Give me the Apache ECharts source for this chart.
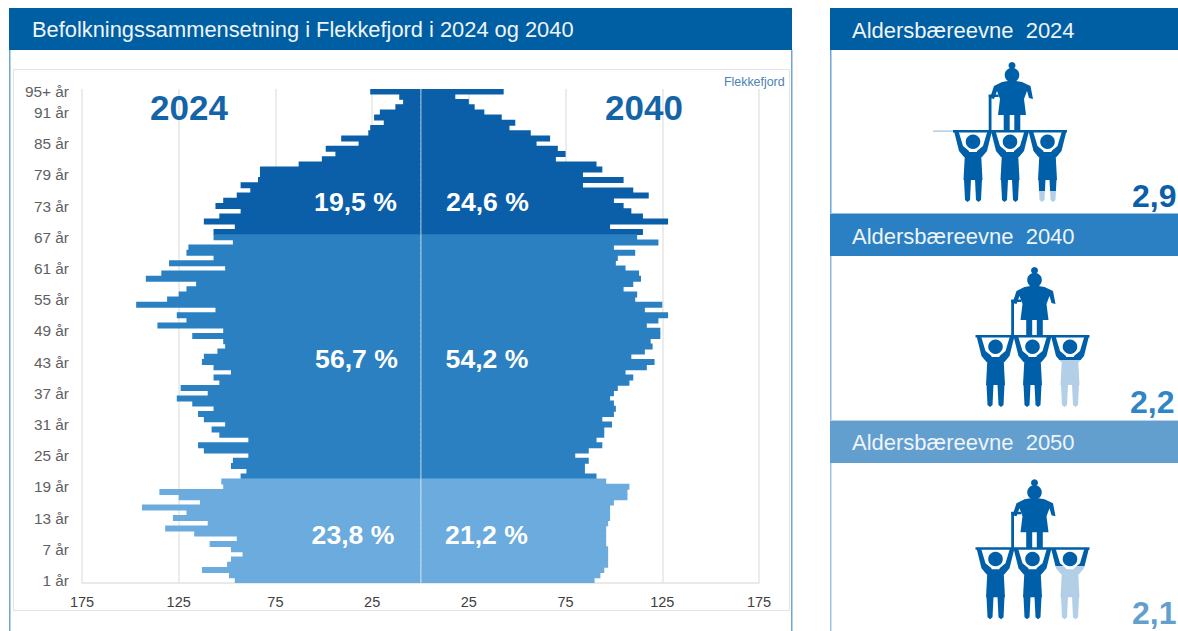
<!DOCTYPE html>
<html><head><meta charset="utf-8">
<style>html,body{margin:0;padding:0;background:#fff}#c{width:1178px;height:631px}</style>
<script src="https://cdn.jsdelivr.net/npm/echarts@6/dist/echarts.min.js"></script>
</head><body><div id="c"></div>
<script>
// Ages, oldest first (top of the pyramid)
const ages = ['95+',94,93,92,91,90,89,88,87,86,85,84,83,82,81,80,79,78,77,76,75,74,73,72,71,70,69,68,67,66,65,64,63,62,61,60,59,58,57,56,55,54,53,52,51,50,49,48,47,46,45,44,43,42,41,40,39,38,37,36,35,34,33,32,31,30,29,28,27,26,25,24,23,22,21,20,19,18,17,16,15,14,13,12,11,10,9,8,7,6,5,4,3,2,1];
const values2024 = [26,11,9,13,21,24,19,26,27,41,32,49,44,51,63,83,83,84,93,88,95,102,106,93,104,112,96,107,107,97,120,121,107,130,101,134,142,116,121,125,131,147,106,126,121,136,102,118,102,101,105,112,113,107,98,107,104,124,110,126,118,107,115,112,101,108,104,89,115,112,89,97,98,90,93,103,102,135,125,114,144,121,128,110,132,117,95,109,98,92,98,100,113,99,96];
const values2040 = [43,18,25,28,33,42,49,46,57,67,60,71,75,70,91,94,84,105,84,110,118,100,105,109,115,128,98,115,112,123,100,111,102,101,106,113,114,110,105,112,111,125,116,128,123,117,124,124,119,120,116,109,121,117,106,110,108,102,100,98,100,101,100,94,99,95,95,91,94,87,80,87,85,85,91,96,108,107,107,100,98,98,98,97,96,96,96,96,97,97,97,97,95,93,90];
const xTicks = { min:-175, max:175, step:50 };
const oldestMiddleAge = 67, oldestYoungAge = 20;
const shares2024 = ['19,5 %','56,7 %','23,8 %'];
const shares2040 = ['24,6 %','54,2 %','21,2 %'];
const bearing = [['Aldersbæreevne  2024','2,9'],['Aldersbæreevne  2040','2,2'],['Aldersbæreevne  2050','2,1']];

const C = { dark:'#0b5ea8', mid:'#2b80c1', light:'#6babdd', head:'#005ea2', fig:'#005fa9', figLight:'#b2cfe7' };
const ageNum = i => ages.length - i;
const bandOf = i => { const a = ageNum(i); return a > oldestMiddleAge ? C.dark : a > oldestYoungAge ? C.mid : C.light; };
const items = (vals,sign) => vals.map((v,i)=>({value:sign*v,itemStyle:{color:bandOf(i)}}));

const FF = '"Liberation Sans", Arial, sans-serif';
const rect = (x,y,w,h,fill,extra) => Object.assign({type:'rect',silent:true,z:1,shape:{x,y,width:w,height:h},style:{fill}},extra||{});
const txt = (t,x,y,size,fill,weight,align,z) => ({type:'text',silent:true,z:z||20,x,y,style:{text:t,fill,font:(weight||'normal')+' '+size+'px '+FF,align:align||'left',verticalAlign:'middle'}});
const poly = (pts,fill) => ({type:'polygon',silent:true,z:5,shape:{points:pts},style:{fill}});
const circ = (x,y,r,fill) => ({type:'circle',silent:true,z:5,shape:{cx:x,cy:y,r},style:{fill}});

function figure(cx,y0,lightFrom){
  const out=[]; const f=C.fig;
  const xe=cx+2;
  const P=(arr,dx,dy)=>arr.map(p=>[p[0]+dx,p[1]+dy]);
  [-37,0,37.5].forEach((d,i)=>{
    const x=cx+d; let fill=f;
    if(i===2 && lightFrom!=null){
      const t=lightFrom/75;
      fill={type:'linear',global:true,x:0,y:y0,x2:0,y2:y0+75,colorStops:[{offset:0,color:f},{offset:t,color:f},{offset:t,color:C.figLight},{offset:1,color:C.figLight}]};
    }
    out.push(circ(x,y0+10.7,7.3,f));
    out.push(poly(P([[-19,0],[-14.5,0],[-10,15],[-4,20],[-4,27],[-9,26],[-14,20]],x,y0),fill));
    out.push(poly(P([[19,0],[14.5,0],[10,15],[4,20],[4,27],[9,26],[14,20]],x,y0),fill));
    out.push(poly(P([[-8,21],[8,21],[9.5,49],[-9.5,49]],x,y0),fill));
    out.push(poly(P([[-9,48.5],[-2,48.5],[-3,69],[-5.5,71],[-8,69]],x,y0),fill));
    out.push(poly(P([[9,48.5],[2,48.5],[3,69],[5.5,71],[8,69]],x,y0),fill));
  });
  out.push(rect(cx-57,y0-1,114,2.4,f,{z:5}));
  out.push(circ(xe,y0-56,7.3,f));
  out.push(circ(xe,y0-65.5,3.5,f));
  out.push(poly(P([[-4,-50],[-10,-49],[-18,-45],[-22,-33],[-18,-32],[-15,-40],[-12,-32],[-14,-16],[14,-16],[12,-32],[15,-40],[17,-33],[21,-32],[18.5,-45],[10,-49],[4,-50]],xe,y0),f));
  out.push(rect(xe-8.3,y0-16.5,6,17,f,{z:5}));
  out.push(rect(xe+2.3,y0-16.5,6,17,f,{z:5}));
  out.push(rect(xe-23.3,y0-36,2.8,36,f,{z:5}));
  out.push(rect(xe-23.3,y0-36.5,10,2.5,f,{z:5}));
  return out;
}

const graphics = [
  rect(9,8,783,42,C.head),
  rect(9,50,1.5,581,'#6fa6d6'), rect(791,50,1.5,581,'#6fa6d6'),
  {type:'rect',silent:true,z:1,shape:{x:13.5,y:69.5,width:776,height:541},style:{fill:'none',stroke:'#e4e4e4',lineWidth:1}},
  txt('Befolkningssammensetning i Flekkefjord i 2024 og 2040',32,29.5,21.85,'#eef4fa'),
  txt('Flekkefjord',724,82,12.4,'#4c81b4'),
  txt('2024',150,107,35,'#1464a8','bold'),
  txt('2040',605,107,35,'#1464a8','bold'),
  rect(830,8,348,42,C.head), rect(830,50,1.5,163,'#6fa6d6'),
  rect(830,213.5,348,42.5,'#2a80c3'), rect(830,256,1.5,164,'#8db9de'),
  rect(830,420.5,348,42.5,'#629fcf'), rect(830,463,1.5,168,'#9cc3e2'),
  rect(830,420,348,1,'#b9d4ea'),
  txt(bearing[0][0],852,30.5,22,'#eef4fa'),
  txt(bearing[1][0],852,236.5,22,'#eef4fa'),
  txt(bearing[2][0],852,442.5,22,'#eef4fa'),
  txt(bearing[0][1],1132,196,32,'#0b5ea8','bold'),
  txt(bearing[1][1],1130,402,32,'#2f85c6','bold'),
  txt(bearing[2][1],1132,613,32,'#629fcf','bold'),
  rect(933,130.5,20,1.2,'#9cc0e0',{z:5}),
  ...figure(1010,131,60),
  ...figure(1032.5,336,24),
  ...figure(1032.5,548.3,18),
];
[202,359,535].forEach((y,i)=>{
  graphics.push(txt(shares2024[i],[355.5,356.5,353][i],y,26.6,'#fff','bold','center'));
  graphics.push(txt(shares2040[i],[487.5,487,486.5][i],y,26.6,'#fff','bold','center'));
});

const chart = echarts.init(document.getElementById('c'),null,{renderer:'svg',width:1178,height:631});
chart.setOption({
  animation:false,
  grid:{left:82,right:419,top:89,bottom:48,containLabel:false},
  xAxis:{type:'value',min:xTicks.min,max:xTicks.max,interval:xTicks.step,position:'bottom',
    axisLine:{show:true,onZero:false,lineStyle:{color:'#e2e2e2',width:1.5}},axisTick:{show:false},
    axisLabel:{margin:11,fontSize:14.5,fontFamily:FF,color:'#404040',formatter:v=>String(Math.abs(v))},
    splitLine:{show:true,lineStyle:{color:'#e6e6e6',width:1.5}}},
  yAxis:{type:'category',inverse:true,data:ages.map(a=>a+' år'),
    axisLine:{show:false},axisTick:{show:false},
    axisLabel:{margin:13,fontSize:15.4,fontFamily:FF,color:'#5f5f5f',
      interval:(i)=> i===0 || (ageNum(i)-1)%6===0}},
  series:[
    {name:'2024',type:'bar',barWidth:'115%',barGap:'-100%',data:items(values2024,-1),silent:true,
     markLine:{silent:true,symbol:'none',label:{show:false},lineStyle:{color:'rgba(255,255,255,.38)',type:'solid',width:1.5},data:[{xAxis:0}]}},
    {name:'2040',type:'bar',barWidth:'115%',barGap:'-100%',data:items(values2040,1),silent:true}
  ],
  graphic:{elements:graphics}
});
</script></body></html>
